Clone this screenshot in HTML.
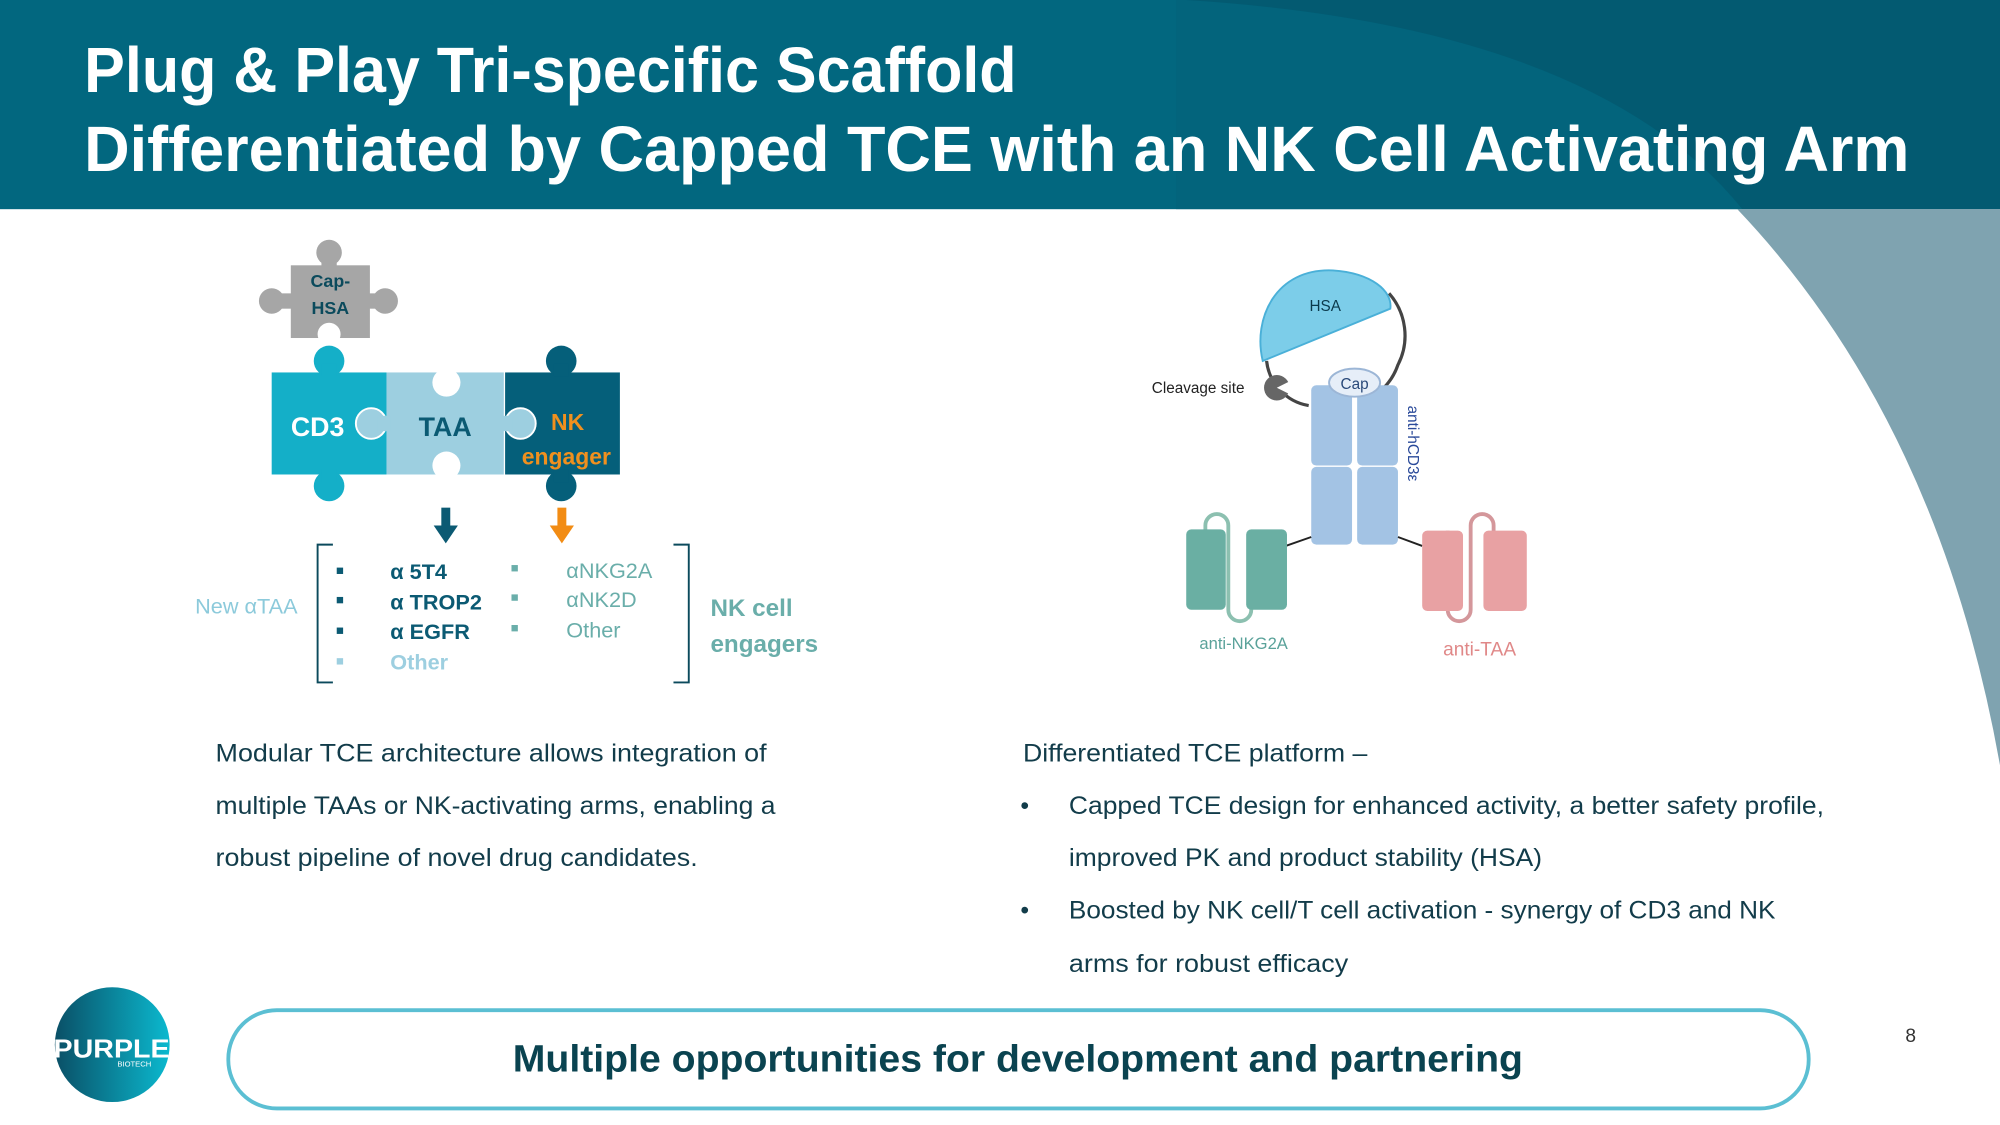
<!DOCTYPE html>
<html><head><meta charset="utf-8"><style>
html,body{margin:0;padding:0;background:#fff}
svg{display:block}
text{font-family:"Liberation Sans",sans-serif}
</style></head><body>
<svg width="2000" height="1125" viewBox="0 0 1568 882" xmlns="http://www.w3.org/2000/svg">
<defs>
<linearGradient id="lg" x1="0" y1="0" x2="1" y2="0"><stop offset="0" stop-color="#0a4f66"/><stop offset="1" stop-color="#0bb9cf"/></linearGradient>
</defs>
<rect width="1568" height="882" fill="#fff"/>
<!-- header -->
<rect x="0" y="0" width="1568" height="164" fill="#02677f"/>
<path d="M922,0 L922,164 L1366,164 Q1250,20 930,0 Z" fill="#03647c"/>
<path d="M930,0 Q1250,20 1366,164 L1568,164 L1568,0 Z" fill="#035a71"/>
<path d="M1362,164 Q1520,330 1568,600 L1568,164 Z" fill="#7fa3b0"/>
<text x="66" y="72" font-size="50" font-weight="bold" fill="#fff" textLength="731" lengthAdjust="spacingAndGlyphs">Plug &amp; Play Tri-specific Scaffold</text>
<text x="66" y="134" font-size="50" font-weight="bold" fill="#fff" textLength="1431" lengthAdjust="spacingAndGlyphs">Differentiated by Capped TCE with an NK Cell Activating Arm</text>

<!-- Cap-HSA piece -->
<g fill="#a6a6a6">
<rect x="228" y="208" width="62" height="57"/>
<circle cx="258" cy="198" r="10"/><rect x="252" y="200" width="12" height="10"/>
<circle cx="213" cy="236" r="10"/><rect x="215" y="230" width="15" height="12"/>
<circle cx="302" cy="236" r="10"/><rect x="288" y="230" width="14" height="12"/>
</g>
<circle cx="258" cy="262" r="9" fill="#fff"/><rect x="253" y="255" width="10" height="12" fill="#fff"/>
<text x="259" y="225" font-size="14" font-weight="bold" fill="#0b4a5c" text-anchor="middle">Cap-</text>
<text x="259" y="246" font-size="14" font-weight="bold" fill="#0b4a5c" text-anchor="middle">HSA</text>

<!-- main row -->
<rect x="213" y="292" width="90" height="80" fill="#14afc8"/>
<rect x="303" y="292" width="92" height="80" fill="#9dcfe0"/>
<rect x="396" y="292" width="90" height="80" fill="#055f7a"/>
<circle cx="258" cy="283" r="12" fill="#14afc8"/><rect x="252" y="285" width="12" height="10" fill="#14afc8"/>
<circle cx="258" cy="381" r="12" fill="#14afc8"/><rect x="252" y="368" width="12" height="10" fill="#14afc8"/>
<circle cx="440" cy="283" r="12" fill="#055f7a"/><rect x="434" y="285" width="12" height="10" fill="#055f7a"/>
<circle cx="440" cy="381" r="12" fill="#055f7a"/><rect x="434" y="368" width="12" height="10" fill="#055f7a"/>
<circle cx="350" cy="300" r="11" fill="#fff"/><rect x="344" y="290" width="12" height="8" fill="#fff"/>
<circle cx="350" cy="365" r="11" fill="#fff"/><rect x="344" y="366" width="12" height="8" fill="#fff"/>
<circle cx="291" cy="332" r="12" fill="#9dcfe0" stroke="#fff" stroke-width="1.5"/><rect x="296" y="326" width="10" height="12" fill="#9dcfe0"/>
<circle cx="408" cy="332" r="12" fill="#9dcfe0" stroke="#fff" stroke-width="1.5"/><rect x="392" y="326" width="10" height="12" fill="#9dcfe0"/>
<text x="249" y="342" font-size="21" font-weight="bold" fill="#fff" text-anchor="middle">CD3</text>
<text x="349" y="342" font-size="21" font-weight="bold" fill="#0b5a73" text-anchor="middle">TAA</text>
<text x="445" y="337" font-size="18" font-weight="bold" fill="#f0901e" text-anchor="middle">NK</text>
<text x="444" y="364" font-size="18" font-weight="bold" fill="#f0901e" text-anchor="middle">engager</text>

<!-- arrows -->
<rect x="346" y="398" width="7" height="16" fill="#0b5a73"/><path d="M340,412 L359,412 L349.5,426 Z" fill="#0b5a73"/>
<rect x="437" y="398" width="7" height="16" fill="#f28c14"/><path d="M431,412 L450,412 L440.5,426 Z" fill="#f28c14"/>

<!-- brackets -->
<path d="M261,427 L249,427 L249,535 L261,535" fill="none" stroke="#0b4a5c" stroke-width="1.5"/>
<path d="M528,427 L540,427 L540,535 L528,535" fill="none" stroke="#0b4a5c" stroke-width="1.5"/>
<g font-size="17" font-weight="bold">
<rect x="264" y="445" width="5" height="5" fill="#0b5a73"/><text x="306" y="454" fill="#0b5a73">α 5T4</text>
<rect x="264" y="468" width="5" height="5" fill="#0b5a73"/><text x="306" y="478" fill="#0b5a73">α TROP2</text>
<rect x="264" y="492" width="5" height="5" fill="#0b5a73"/><text x="306" y="501" fill="#0b5a73">α EGFR</text>
<rect x="264" y="516" width="5" height="5" fill="#9dcfe0"/><text x="306" y="525" fill="#9dcfe0">Other</text>
<rect x="401" y="443" width="5" height="5" fill="#6aaeaa"/><text x="444" y="453" fill="#6aaeaa" font-weight="normal">αNKG2A</text>
<rect x="401" y="466" width="5" height="5" fill="#6aaeaa"/><text x="444" y="476" fill="#6aaeaa" font-weight="normal">αNK2D</text>
<rect x="401" y="490" width="5" height="5" fill="#6aaeaa"/><text x="444" y="500" fill="#6aaeaa" font-weight="normal">Other</text>
</g>
<text x="153" y="481" font-size="17" fill="#8ccadb">New αTAA</text>
<text x="557" y="483" font-size="19" font-weight="bold" fill="#6aaeaa">NK cell</text>
<text x="557" y="511" font-size="19" font-weight="bold" fill="#6aaeaa">engagers</text>

<!-- right diagram -->
<path d="M1089,230 A50 50 0 0 1 1096,286 A48 48 0 0 1 1066,316" fill="none" stroke="#444" stroke-width="2.5"/>
<path d="M993,283 A40 40 0 0 0 1026,318" fill="none" stroke="#444" stroke-width="2.5"/>
<path d="M990,283 C982,250 1000,210 1045,212 C1075,214 1092,228 1090,242 Z" fill="#7ccde9" stroke="#4ab0d8" stroke-width="1.5"/>
<text x="1039" y="244" font-size="12" fill="#0b3a4c" text-anchor="middle">HSA</text>
<circle cx="1001" cy="304" r="10" fill="#666"/><path d="M1001,304 L1013,298 L1013,310 Z" fill="#fff"/>
<text x="903" y="308" font-size="12" fill="#222">Cleavage site</text>
<g fill="#a3c3e4">
<rect x="1028" y="302" width="32" height="63" rx="4"/><rect x="1028" y="366" width="32" height="61" rx="4"/>
<rect x="1064" y="302" width="32" height="63" rx="4"/><rect x="1064" y="366" width="32" height="61" rx="4"/>
</g>
<ellipse cx="1062" cy="300" rx="20" ry="11" fill="#e6eef8" stroke="#9cb6d6" stroke-width="1.5"/>
<text x="1062" y="305" font-size="12" fill="#2a4a7a" text-anchor="middle">Cap</text>
<text x="1104" y="318" font-size="12" fill="#2a4a9a" transform="rotate(90 1104 318)">anti-hCD3ε</text>
<line x1="1008" y1="428" x2="1028" y2="421" stroke="#222" stroke-width="1.5"/>
<line x1="1096" y1="421" x2="1115" y2="428" stroke="#222" stroke-width="1.5"/>
<path d="M945,416 L945,412 A9 9 0 0 1 963,412 L963,478 A9 9 0 0 0 981,478 L981,470" fill="none" stroke="#8cc0b0" stroke-width="3"/>
<rect x="930" y="415" width="31" height="63" rx="4" fill="#6aafa3"/>
<rect x="977" y="415" width="32" height="63" rx="4" fill="#6aafa3"/>
<path d="M1135,416 L1135,478 A9 9 0 0 0 1153,478 L1153,412 A9 9 0 0 1 1171,412 L1171,418" fill="none" stroke="#d4979b" stroke-width="3"/>
<rect x="1115" y="416" width="32" height="63" rx="4" fill="#e8a1a3"/>
<rect x="1163" y="416" width="34" height="63" rx="4" fill="#e8a1a3"/>
<text x="975" y="509" font-size="13" fill="#5aa29a" text-anchor="middle">anti-NKG2A</text>
<text x="1160" y="514" font-size="15" fill="#e08888" text-anchor="middle">anti-TAA</text>

<!-- body text -->
<g font-size="19.5" fill="#123c4a">
<text x="169" y="597" textLength="432" lengthAdjust="spacingAndGlyphs">Modular TCE architecture allows integration of</text>
<text x="169" y="638" textLength="439" lengthAdjust="spacingAndGlyphs">multiple TAAs or NK-activating arms, enabling a</text>
<text x="169" y="679" textLength="378" lengthAdjust="spacingAndGlyphs">robust pipeline of novel drug candidates.</text>
<text x="802" y="597" textLength="270" lengthAdjust="spacingAndGlyphs">Differentiated TCE platform –</text>
<text x="800" y="638">•</text>
<text x="838" y="638" textLength="592" lengthAdjust="spacingAndGlyphs">Capped TCE design for enhanced activity, a better safety profile,</text>
<text x="838" y="679" textLength="371" lengthAdjust="spacingAndGlyphs">improved PK and product stability (HSA)</text>
<text x="800" y="720">•</text>
<text x="838" y="720" textLength="554" lengthAdjust="spacingAndGlyphs">Boosted by NK cell/T cell activation - synergy of CD3 and NK</text>
<text x="838" y="762" textLength="219" lengthAdjust="spacingAndGlyphs">arms for robust efficacy</text>
</g>

<!-- bottom -->
<rect x="179" y="792" width="1239" height="77" rx="38" fill="#fff" stroke="#5bbfd3" stroke-width="3"/>
<text x="798" y="840" font-size="30" font-weight="bold" fill="#0a4350" text-anchor="middle" textLength="792" lengthAdjust="spacingAndGlyphs">Multiple opportunities for development and partnering</text>
<circle cx="88" cy="819" r="45" fill="url(#lg)"/>
<text x="42" y="829" font-size="20" font-weight="bold" fill="#fff" textLength="91" lengthAdjust="spacingAndGlyphs">PURPLE</text>
<text x="92" y="836" font-size="6" fill="#fff">BIOTECH</text>
<text x="1498" y="817" font-size="15" fill="#333" text-anchor="middle">8</text>
</svg>
</body></html>
